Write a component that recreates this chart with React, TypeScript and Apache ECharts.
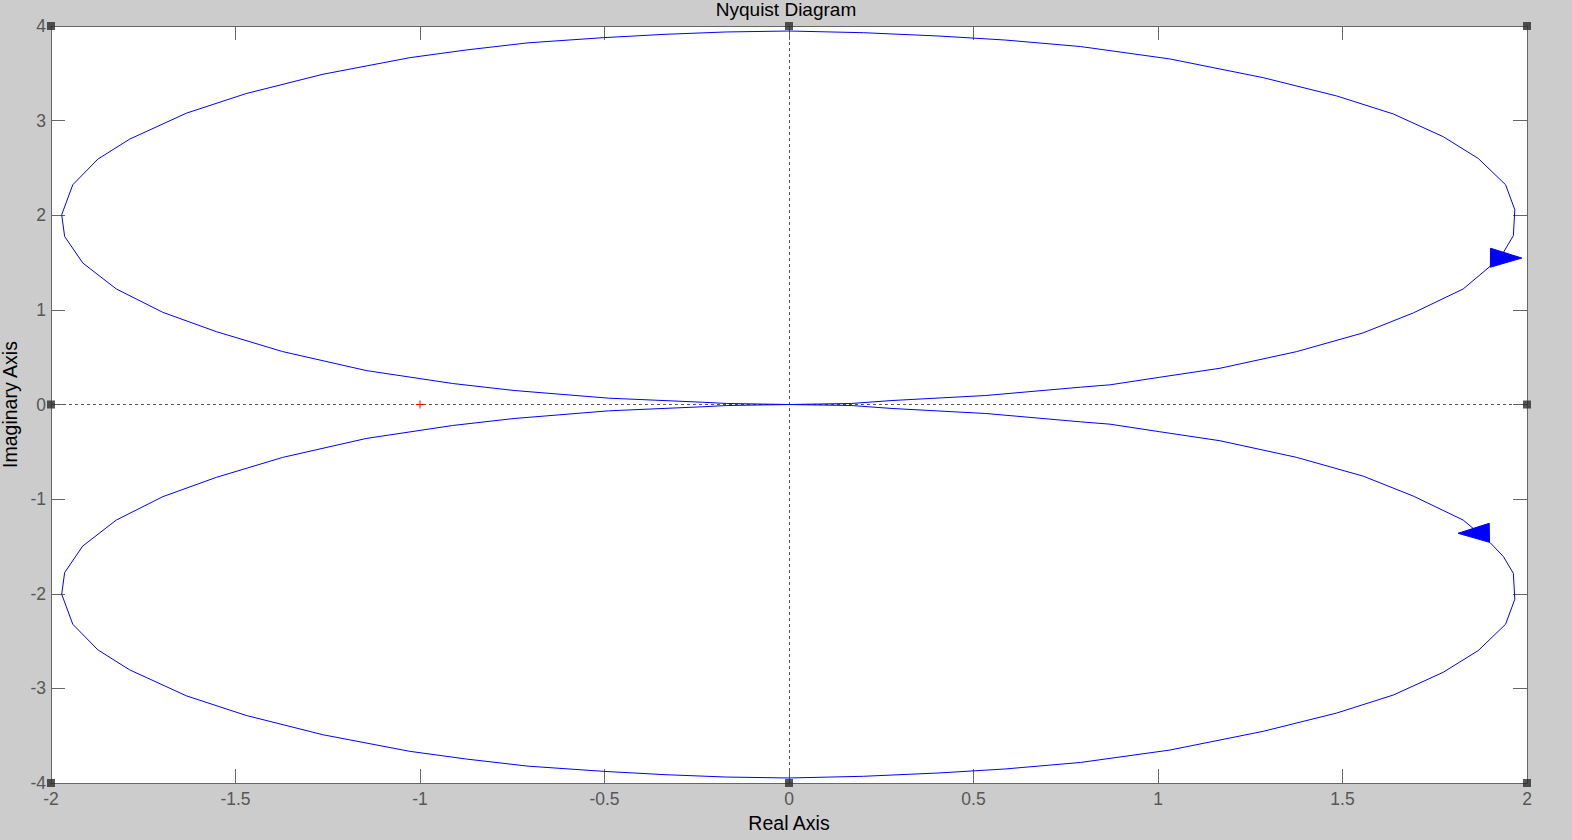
import React, { useEffect, useRef } from "react";
import * as echarts from "echarts";

// Axis ranges and tick steps
const xMin = -2;
const xMax = 2;
const xStep = 0.5;
const yMin = -4;
const yMax = 4;
const yStep = 1;

// Upper loop (positive frequencies)
const upperRe = [
  0, -0.17, -0.234, -0.489, -0.745, -0.912, -1.146, -1.372, -1.552, -1.697,
  -1.823, -1.914, -1.963, -1.971, -1.941, -1.873, -1.787, -1.633, -1.471,
  -1.263, -1.028, -0.874, -0.707, -0.502, -0.336, -0.17, 0, 0.202, 0.406,
  0.585, 0.79, 1.032, 1.285, 1.484, 1.638, 1.773, 1.868, 1.942, 1.967, 1.963,
  1.936, 1.9, 1.827, 1.692, 1.556, 1.376, 1.168, 1.005, 0.87, 0.79, 0.533,
  0.279, 0.17, 0,
];
const upperIm = [
  0, 0.011, 0.024, 0.067, 0.148, 0.222, 0.359, 0.559, 0.77, 0.974, 1.221,
  1.496, 1.776, 2.005, 2.322, 2.593, 2.804, 3.079, 3.286, 3.49, 3.665, 3.747,
  3.822, 3.877, 3.912, 3.937, 3.947, 3.929, 3.894, 3.852, 3.783, 3.652, 3.454,
  3.261, 3.07, 2.83, 2.6, 2.322, 2.058, 1.784, 1.607, 1.46, 1.221, 0.968,
  0.757, 0.559, 0.383, 0.288, 0.208, 0.183, 0.095, 0.042, 0.011, 0,
];

// Lower loop (negative frequencies)
const lowerRe = [
  0, -0.17, -0.234, -0.489, -0.745, -0.912, -1.146, -1.372, -1.552, -1.697,
  -1.823, -1.914, -1.963, -1.971, -1.941, -1.873, -1.787, -1.633, -1.471,
  -1.263, -1.028, -0.874, -0.707, -0.502, -0.336, -0.17, 0, 0.202, 0.406,
  0.585, 0.79, 1.032, 1.285, 1.484, 1.638, 1.773, 1.868, 1.942, 1.967, 1.963,
  1.936, 1.9, 1.827, 1.692, 1.556, 1.376, 1.168, 1.005, 0.87, 0.79, 0.533,
  0.279, 0.17, 0,
];
const lowerIm = [
  0, -0.011, -0.024, -0.067, -0.148, -0.222, -0.359, -0.559, -0.77, -0.974,
  -1.221, -1.496, -1.776, -2.005, -2.322, -2.593, -2.804, -3.079, -3.286,
  -3.49, -3.665, -3.747, -3.822, -3.877, -3.912, -3.937, -3.947, -3.929,
  -3.894, -3.852, -3.783, -3.652, -3.454, -3.261, -3.07, -2.83, -2.6, -2.322,
  -2.058, -1.784, -1.607, -1.46, -1.221, -0.968, -0.757, -0.559, -0.383,
  -0.288, -0.208, -0.183, -0.095, -0.042, -0.011, 0,
];

// Direction arrows: tip and base centre
const arrowTipRe = [1.986, 1.813];
const arrowTipIm = [1.548, -1.361];
const arrowBaseRe = [1.901, 1.898];
const arrowBaseIm = [1.551, -1.356];

// Critical point marker
const criticalRe = [-1];
const criticalIm = [0];

const FONT = "'Liberation Sans', Arial, sans-serif";
const AXIS_COLOR = "#666666";
const LABEL_COLOR = "#575757";

export default function App() {
  const ref = useRef<HTMLDivElement>(null);

  useEffect(() => {
    document.body.style.margin = "0";
    if (!ref.current) return;
    const chart = echarts.init(ref.current, null, { renderer: "svg" });

    const upper = upperRe.map((r, i) => [r, upperIm[i]]);
    const lower = lowerRe.map((r, i) => [r, lowerIm[i]]);
    const arrows = arrowTipRe.map((r, i) => [
      r,
      arrowTipIm[i],
      arrowBaseRe[i],
      arrowBaseIm[i],
    ]);
    const critical = criticalRe.map((r, i) => [r, criticalIm[i]]);
    const handles = [
      [xMin, yMax],
      [(xMin + xMax) / 2, yMax],
      [xMax, yMax],
      [xMin, (yMin + yMax) / 2],
      [xMax, (yMin + yMax) / 2],
      [xMin, yMin],
      [(xMin + xMax) / 2, yMin],
      [xMax, yMin],
    ];

    const axisCommon = {
      axisLine: {
        show: true,
        onZero: false,
        lineStyle: { color: AXIS_COLOR, width: 1 },
      },
      axisTick: {
        show: true,
        inside: true,
        length: 14,
        lineStyle: { color: AXIS_COLOR, width: 1 },
      },
      splitLine: { show: false },
    };

    const option: any = {
      animation: false,
      backgroundColor: "#cccccc",
      title: {
        text: "Nyquist Diagram",
        left: "center",
        top: 0,
        padding: 0,
        textStyle: {
          color: "#000",
          fontSize: 19,
          fontWeight: "normal",
          fontFamily: FONT,
        },
      },
      grid: {
        left: 51,
        right: 45,
        top: 26,
        bottom: 57,
        containLabel: false,
        outerBoundsMode: "none",
        show: true,
        backgroundColor: "#ffffff",
        borderWidth: 0,
      },
      xAxis: [
        {
          type: "value",
          min: xMin,
          max: xMax,
          interval: xStep,
          position: "bottom",
          ...axisCommon,
          axisLabel: {
            color: LABEL_COLOR,
            fontSize: 17.5,
            fontFamily: FONT,
            margin: 7,
          },
          name: "Real Axis",
          nameLocation: "middle",
          nameGap: 30,
          nameTextStyle: { color: "#000", fontSize: 19.5, fontFamily: FONT },
        },
        {
          type: "value",
          min: xMin,
          max: xMax,
          interval: xStep,
          position: "top",
          ...axisCommon,
          axisLabel: { show: false },
        },
      ],
      yAxis: [
        {
          type: "value",
          min: yMin,
          max: yMax,
          interval: yStep,
          position: "left",
          ...axisCommon,
          axisLabel: {
            color: LABEL_COLOR,
            fontSize: 17.5,
            fontFamily: FONT,
            margin: 5,
          },
          name: "Imaginary Axis",
          nameLocation: "middle",
          nameGap: 29,
          nameTextStyle: { color: "#000", fontSize: 19.5, fontFamily: FONT },
        },
        {
          type: "value",
          min: yMin,
          max: yMax,
          interval: yStep,
          position: "right",
          ...axisCommon,
          axisLabel: { show: false },
        },
      ],
      series: [
        {
          type: "line",
          data: upper,
          xAxisIndex: 0,
          yAxisIndex: 0,
          showSymbol: false,
          symbol: "none",
          lineStyle: { color: "#0000ff", width: 1 },
          silent: true,
          z: 3,
          markLine: {
            silent: true,
            symbol: "none",
            label: { show: false },
            lineStyle: { color: "#555555", width: 1, type: [3, 3] },
            data: [{ xAxis: 0 }, { yAxis: 0 }],
            z: 2,
          },
        },
        {
          type: "line",
          data: lower,
          xAxisIndex: 0,
          yAxisIndex: 0,
          showSymbol: false,
          symbol: "none",
          lineStyle: { color: "#0000ff", width: 1 },
          silent: true,
          z: 3,
        },
        {
          type: "custom",
          data: arrows,
          xAxisIndex: 0,
          yAxisIndex: 0,
          silent: true,
          z: 4,
          renderItem: (params: any, api: any) => {
            const tip = api.coord([api.value(0), api.value(1)]);
            const base = api.coord([api.value(2), api.value(3)]);
            const dx = tip[0] - base[0];
            const dy = tip[1] - base[1];
            const len = Math.sqrt(dx * dx + dy * dy) || 1;
            const nx = -dy / len;
            const ny = dx / len;
            const hw = 9.5;
            return {
              type: "polygon",
              shape: {
                points: [
                  tip,
                  [base[0] + nx * hw, base[1] + ny * hw],
                  [base[0] - nx * hw, base[1] - ny * hw],
                ],
              },
              style: { fill: "#0000ff", stroke: "#0000ff", lineWidth: 1 },
            };
          },
        },
        {
          type: "custom",
          data: critical,
          xAxisIndex: 0,
          yAxisIndex: 0,
          silent: true,
          z: 5,
          renderItem: (params: any, api: any) => {
            const p = api.coord([api.value(0), api.value(1)]);
            const h = 4;
            return {
              type: "group",
              children: [
                {
                  type: "line",
                  shape: { x1: p[0] - h, y1: p[1], x2: p[0] + h, y2: p[1] },
                  style: { stroke: "#ff0000", lineWidth: 1 },
                },
                {
                  type: "line",
                  shape: { x1: p[0], y1: p[1] - h, x2: p[0], y2: p[1] + h },
                  style: { stroke: "#ff0000", lineWidth: 1 },
                },
              ],
            };
          },
        },
        {
          type: "scatter",
          data: handles,
          xAxisIndex: 0,
          yAxisIndex: 0,
          symbol: "rect",
          symbolSize: 8,
          clip: false,
          silent: true,
          z: 10,
          itemStyle: { color: "#2b2b2b" },
        },
      ],
    };

    chart.setOption(option);
    return () => chart.dispose();
  }, []);

  return <div ref={ref} style={{ width: 1572, height: 840 }} />;
}
